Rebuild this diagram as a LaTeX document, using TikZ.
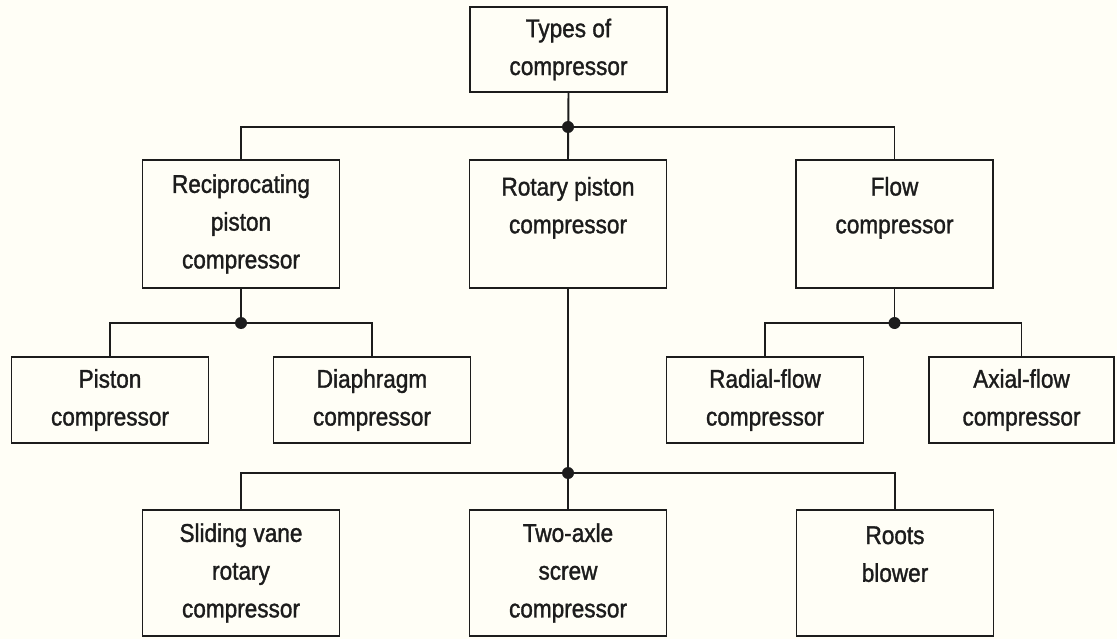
\documentclass[tikz,border=0pt]{standalone}
\usepackage{fontspec}
\setmainfont{Liberation Sans}[FakeStretch=0.88, FakeBold=1.3]
\definecolor{paper}{RGB}{255,254,246}
\definecolor{ink}{RGB}{28,28,28}

\begin{document}
\begin{tikzpicture}[x=0.2mm, y=-0.2mm, line width=1.1pt,
    box/.style={draw=ink, text=ink, rectangle, align=center, inner sep=0pt,
                minimum width=3.94cm, font=\fontsize{14.6}{21.5}\selectfont},
    low/.style={box, minimum height=1.72cm},
    tall/.style={box, minimum height=2.56cm}]
    \fill[paper] (0,0) rectangle (1117,639);
    \useasboundingbox (0,0) rectangle (1117,639);

    \node[low, minimum height=1.7cm] (types) at (568.5,49.5) {Types of\\compressor};

    \node[tall] (recip)  at (241,224)   {Reciprocating\\piston\\compressor};
    \node[tall] (rotary) at (568,224)   {Rotary piston\\compressor\\~};
    \node[tall] (flow)   at (894.5,224) {Flow\\compressor\\~};

    \node[low] (piston) at (110,400) {Piston\\compressor};
    \node[low] (diaph)  at (372,400) {Diaphragm\\compressor};
    \node[low] (radial) at (765,400) {Radial-flow\\compressor};
    \node[low, minimum width=3.7cm] (axial) at (1021.5,400) {Axial-flow\\compressor};

    \node[tall, minimum height=2.52cm] (sliding) at (241,573) {Sliding vane\\rotary\\compressor};
    \node[tall, minimum height=2.52cm] (twoaxle) at (568,573) {Two-axle\\screw\\compressor};
    \node[tall, minimum height=2.52cm] (roots)   at (895,573) {Roots\\blower\\~};

    \coordinate (j1) at (568,127);
    \coordinate (j2) at (241,323);
    \coordinate (j3) at (894.5,323);
    \coordinate (j4) at (568,473);

    \draw[ink] (types.south) -- (rotary.north);
    \draw[ink] (recip.north) |- (j1) -| (flow.north);
    \draw[ink] (recip.south) -- (j2);
    \draw[ink] (piston.north) |- (j2) -| (diaph.north);
    \draw[ink] (flow.south) -- (j3);
    \draw[ink] (radial.north) |- (j3) -| (axial.north);
    \draw[ink] (rotary.south) -- (twoaxle.north);
    \draw[ink] (sliding.north) |- (j4) -| (roots.north);

    \foreach \j in {j1,j2,j3,j4}
        \fill[ink] (\j) circle (0.12cm);
\end{tikzpicture}
\end{document}
